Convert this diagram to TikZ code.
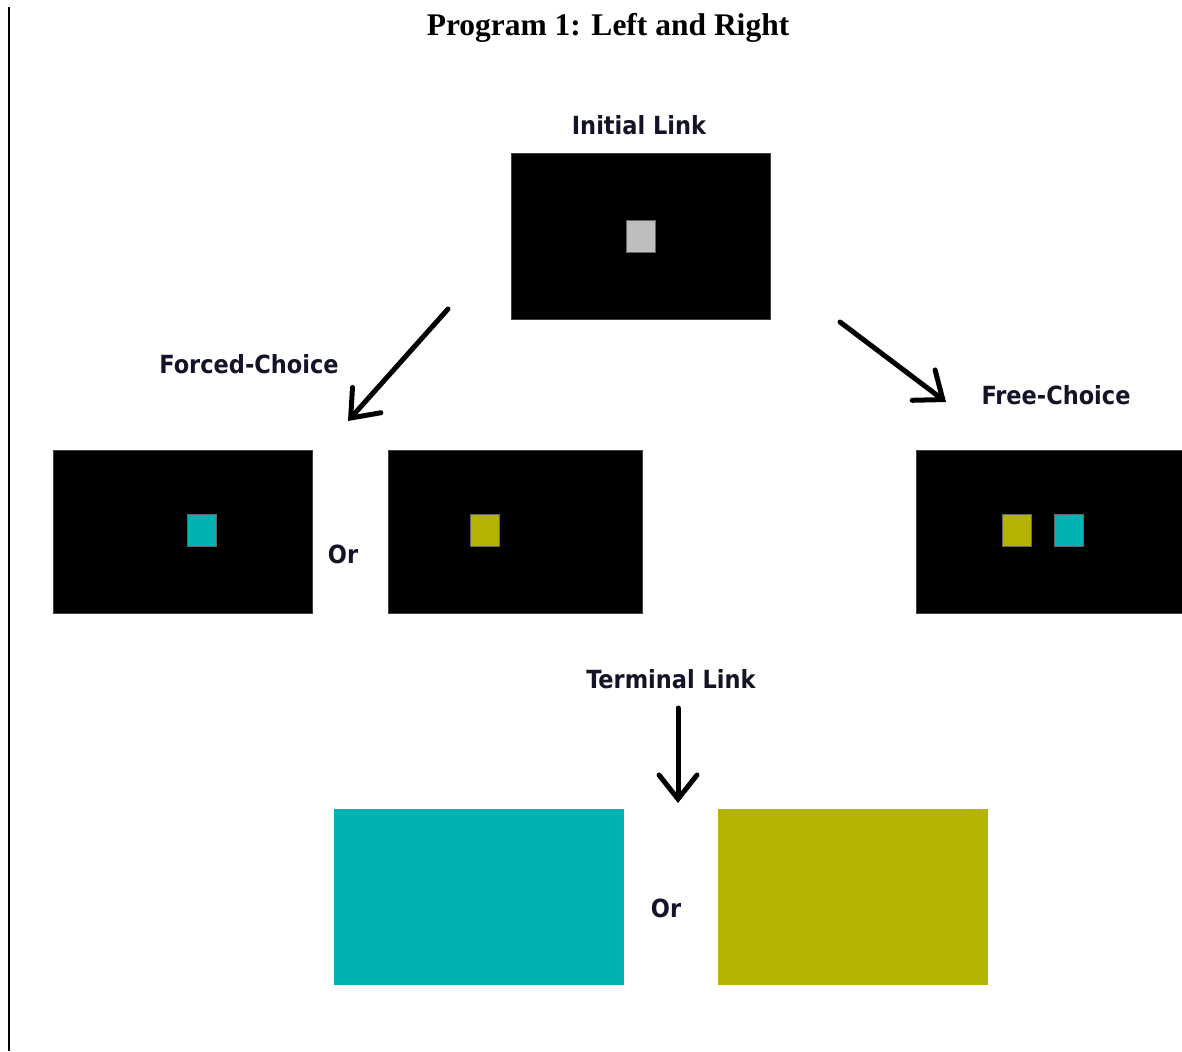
\documentclass[tikz,border=0pt]{standalone}
\usepackage{fontspec}
\setmainfont{Liberation Serif}
\newfontfamily\labelfont{DejaVu Sans Condensed}
\usetikzlibrary{arrows.meta}
\definecolor{keyteal}{HTML}{00B3B3}
\definecolor{keyolive}{HTML}{B3B300}
\definecolor{keygrey}{HTML}{BEBEBE}
\definecolor{txt}{HTML}{141428}

\begin{document}
\begin{tikzpicture}[
  x=1pt, y=-1pt,
  screen/.style={fill=black, draw=black!75, line width=0.8pt, inner sep=0pt},
  key/.style={minimum width=29pt, minimum height=32pt, inner sep=0pt, draw=black!60, line width=0.6pt},
  lbl/.style={font=\labelfont\bfseries\fontsize{25}{29}\selectfont, text=txt, inner sep=0pt},
  move/.style={-{Straight Barb[length=24pt, width=38pt, line width=5pt, line cap=round]},
               line width=5pt, line cap=round}]
\useasboundingbox (0,0) rectangle (1182,1051);
\draw[line width=2pt] (9,7) -- (9,1051);
\node[font=\bfseries\fontsize{31.5}{36}\selectfont] (title) at (608,28) {Program 1: Left and Right};
% initial link
\node[lbl] (initl) at (639,125) {Initial Link};
\node[screen, minimum width=259pt, minimum height=166pt] (init) at (640.5,236) {};
\node[key, fill=keygrey] (grey) at (640.5,236) {};
% forced-choice screens
\node[lbl] (forcedl) at (249,364) {Forced-Choice};
\node[screen, minimum width=259pt, minimum height=163pt] (fleft) at (182.5,531.5) {};
\node[key, fill=keyteal] (fteal) at (201.5,530.5) {};
\node[lbl] (or1) at (343,554) {Or};
\node[screen, minimum width=254pt, minimum height=163pt] (fright) at (515,531.5) {};
\node[key, fill=keyolive] (folive) at (484.5,530.5) {};
% free-choice screen
\node[lbl] (freel) at (1056,395) {Free-Choice};
\node[screen, minimum width=266pt, minimum height=163pt] (free) at (1049,531.5) {};
\node[key, fill=keyolive] (golive) at (1017,530.5) {};
\node[key, fill=keyteal] (gteal) at (1069,530.5) {};
% terminal link
\node[lbl] (terml) at (671,679) {Terminal Link};
\node[minimum width=290pt, minimum height=176pt, inner sep=0pt, fill=keyteal] (tteal) at (479,897) {};
\node[lbl] (or2) at (666,908) {Or};
\node[minimum width=270pt, minimum height=176pt, inner sep=0pt, fill=keyolive] (tolive) at (853,897) {};
% arrows
\coordinate (a1) at (448,309);
\coordinate (a1e) at (348,421);
\coordinate (a2) at (840,322);
\coordinate (a2e) at (946,402);
\coordinate (a3) at (678,708);
\coordinate (a3e) at (678,803);
\draw[move] (a1) -- (a1e);
\draw[move] (a2) -- (a2e);
\draw[move] (a3) -- (a3e);
\end{tikzpicture}
\end{document}
